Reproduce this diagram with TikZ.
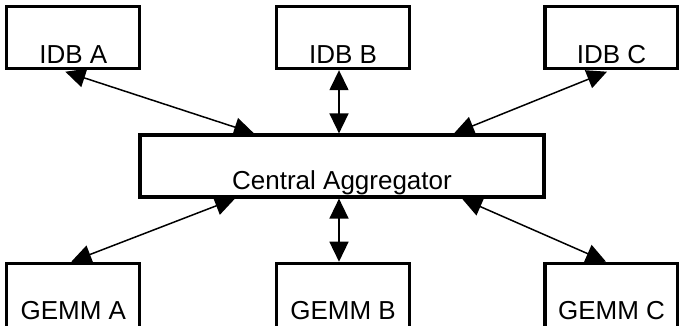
\documentclass[tikz,border=0pt]{standalone}
\usepackage{fontspec}
\setmainfont{Liberation Sans}
\usetikzlibrary{arrows.meta}

\begin{document}
\begin{tikzpicture}[
        x=1pt, y=1pt,
        box/.style={draw, line width=3.2pt, inner sep=0pt, minimum width=133pt,
          text height=56.6pt, text depth=5.4pt, font=\fontsize{26}{31}\selectfont},
        link/.style={{Triangle[length=20pt,width=19pt]}-{Triangle[length=20pt,width=19pt]}, line width=1.5pt}
      ]
      \useasboundingbox (0,0) rectangle (679,326);
      \node[box] (idba) at (73.3,288.4) {IDB A};
      \node[box] (idbb) at (343,288.4) {IDB B};
      \node[box] (idbc) at (611.5,288.4) {IDB C};
      \node[box, minimum width=404pt, text height=55pt, text depth=7pt] (central) at (342,160) {Central Aggregator};
      \node[box, text depth=13.4pt] (gemma) at (73.3,27.7) {GEMM A};
      \node[box, text depth=13.4pt] (gemmb) at (343,27.7) {GEMM B};
      \node[box, text depth=13.4pt] (gemmc) at (611.5,27.7) {GEMM C};
      \draw[link] ([xshift=-8pt,yshift=-1.5pt]idba.south) -- ([xshift=-88pt]central.north);
      \draw[link] ([xshift=-4pt]idbb.south) -- ([xshift=-3pt]central.north);
      \draw[link] ([xshift=-4.5pt,yshift=-1.5pt]idbc.south) -- ([xshift=112pt]central.north);
      \draw[link] ([xshift=-2pt]gemma.north) -- ([xshift=-107pt]central.south);
      \draw[link] ([xshift=-4pt]gemmb.north) -- ([xshift=-3pt]central.south);
      \draw[link] ([xshift=-5.5pt]gemmc.north) -- ([xshift=120pt]central.south);
    \end{tikzpicture}
\end{document}
